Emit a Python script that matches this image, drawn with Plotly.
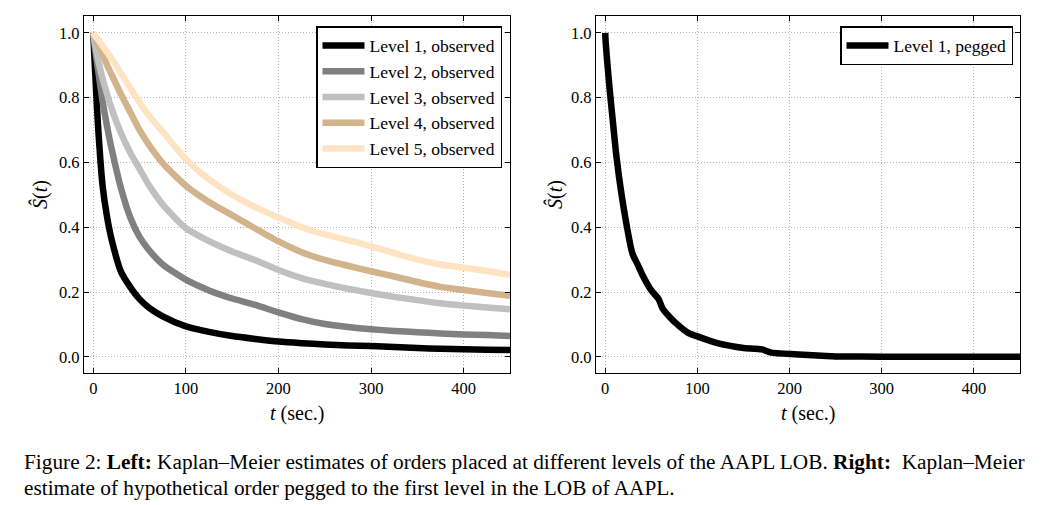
import plotly.graph_objects as go

# ---- data ----
t_obs = [0, 2, 5, 10, 15, 20, 30, 40, 50, 60, 75, 100, 125, 150, 175, 200,
         225, 250, 275, 300, 325, 350, 375, 400, 425, 450]
level1 = [1.0, 0.88, 0.72, 0.53, 0.43, 0.36, 0.262, 0.215, 0.178, 0.152, 0.125, 0.094,
          0.077, 0.064, 0.055, 0.047, 0.042, 0.038, 0.035, 0.033, 0.030, 0.027,
          0.025, 0.023, 0.022, 0.021]
level2 = [1.0, 0.95, 0.89, 0.79, 0.71, 0.64, 0.52, 0.43, 0.37, 0.33, 0.285, 0.238,
          0.205, 0.18, 0.16, 0.137, 0.116, 0.101, 0.092, 0.085, 0.080, 0.076,
          0.072, 0.069, 0.067, 0.064]
level3 = [1.0, 0.965, 0.92, 0.86, 0.81, 0.765, 0.69, 0.63, 0.58, 0.53, 0.47, 0.397,
          0.357, 0.325, 0.298, 0.268, 0.243, 0.225, 0.21, 0.197, 0.185, 0.175,
          0.165, 0.158, 0.152, 0.147]
level4 = [1.0, 0.985, 0.965, 0.935, 0.90, 0.87, 0.81, 0.755, 0.70, 0.655, 0.598, 0.528,
          0.478, 0.437, 0.396, 0.356, 0.323, 0.299, 0.281, 0.264, 0.248, 0.231,
          0.216, 0.206, 0.197, 0.188]
level5 = [1.0, 0.99, 0.98, 0.96, 0.94, 0.92, 0.875, 0.83, 0.785, 0.745, 0.695, 0.61,
          0.548, 0.50, 0.462, 0.43, 0.40, 0.378, 0.36, 0.341, 0.32, 0.30,
          0.285, 0.275, 0.265, 0.253]

t_peg = [0, 0.5, 2.5, 5, 8, 11.5, 15, 17, 20, 23, 28, 30, 36, 40, 50, 58, 62, 65,
         77, 90, 100, 113, 125, 141, 150, 170, 180, 205, 225, 245, 250, 300, 450]
pegged = [1.0, 0.97, 0.90, 0.82, 0.735, 0.635, 0.555, 0.515, 0.46, 0.41, 0.335, 0.315,
          0.28, 0.255, 0.205, 0.178, 0.15, 0.139, 0.103, 0.074, 0.063, 0.05, 0.04,
          0.031, 0.027, 0.023, 0.013, 0.008, 0.005, 0.002, 0.001, 0.0005, 0.0]

obs_names = ["Level 1, observed", "Level 2, observed", "Level 3, observed",
             "Level 4, observed", "Level 5, observed"]
obs_series = [level1, level2, level3, level4, level5]
obs_colors = ["black", "gray", "silver", "tan", "bisque"]

x_ticks = [0, 100, 200, 300, 400]
y_ticks = [0.0, 0.2, 0.4, 0.6, 0.8, 1.0]
y_ticktext = ["0.0", "0.2", "0.4", "0.6", "0.8", "1.0"]

FONT = "Liberation Serif"
OFF = 8  # default page body margin
W, H = 1053 - OFF, 505 - OFF

fig = go.Figure()
for name, ys, col in zip(obs_names, obs_series, obs_colors):
    fig.add_trace(go.Scatter(x=t_obs, y=ys, mode="lines", name=name,
                             line=dict(color=col, width=6.5, shape="spline", smoothing=0.6),
                             xaxis="x", yaxis="y", legend="legend"))
fig.add_trace(go.Scatter(x=t_peg, y=pegged, mode="lines", name="Level 1, pegged",
                         line=dict(color="black", width=6.5, shape="spline", smoothing=0.5),
                         xaxis="x2", yaxis="y2", legend="legend2"))

def px_x(p):
    return (p - OFF) / W

def px_y(p):
    return 1 - (p - OFF) / H

axis_common = dict(showline=True, linecolor="black", linewidth=1.2, mirror="ticks",
                   ticks="inside", ticklen=5, tickwidth=1.2, tickcolor="black",
                   showgrid=True, gridcolor="#b4b4b4", griddash="1px,2px", gridwidth=1,
                   zeroline=False, automargin=False,
                   tickfont=dict(family=FONT, size=16.5, color="black"))

xcommon = dict(axis_common, range=[-10, 450], tickvals=x_ticks)
ycommon = dict(axis_common, range=[-0.05, 1.052], tickvals=y_ticks, ticktext=y_ticktext)

fig.update_layout(
    width=W, height=H,
    margin=dict(l=0, r=0, t=0, b=0, autoexpand=False),
    paper_bgcolor="white", plot_bgcolor="white",
    showlegend=True,
    xaxis=dict(xcommon, domain=[px_x(84), px_x(510)], anchor="y"),
    yaxis=dict(ycommon, domain=[px_y(373), px_y(16)], anchor="x"),
    xaxis2=dict(xcommon, domain=[px_x(596), px_x(1020)], anchor="y2"),
    yaxis2=dict(ycommon, domain=[px_y(373), px_y(16)], anchor="x2"),
    legend=dict(x=px_x(502), y=px_y(26), xanchor="right", yanchor="top",
                bgcolor="white", bordercolor="black", borderwidth=1.5,
                font=dict(family=FONT, size=17.5, color="black"),
                itemwidth=42, tracegroupgap=0),
    legend2=dict(x=px_x(1013), y=px_y(26), xanchor="right", yanchor="top",
                 bgcolor="white", bordercolor="black", borderwidth=1.5,
                 font=dict(family=FONT, size=17.5, color="black"),
                 itemwidth=42),
)

# axis titles placed as annotations
TITLE_FONT = dict(family=FONT, size=20, color="black")
for cx in (297, 808):
    fig.add_annotation(xref="paper", yref="paper", x=px_x(cx), y=px_y(413),
                       xanchor="center", yanchor="middle", showarrow=False,
                       text="<i>t</i> (sec.)", font=TITLE_FONT)
for cx in (40, 555):
    fig.add_annotation(xref="paper", yref="paper", x=px_x(cx), y=px_y(195),
                       xanchor="center", yanchor="middle", showarrow=False,
                       textangle=-90, text="<i>Ŝ</i>(<i>t</i>)", font=TITLE_FONT)

fig.add_annotation(xref="paper", yref="paper", x=px_x(22), y=px_y(462),
                   xanchor="left", yanchor="middle", showarrow=False,
                   text="Figure 2: <b>Left:</b> Kaplan–Meier estimates of orders placed at different levels of the AAPL LOB. <b>Right:</b>  Kaplan–Meier",
                   font=dict(family=FONT, size=21.3, color="black"))
fig.add_annotation(xref="paper", yref="paper", x=px_x(22), y=px_y(488),
                   xanchor="left", yanchor="middle", showarrow=False,
                   text="estimate of hypothetical order pegged to the first level in the LOB of AAPL.",
                   font=dict(family=FONT, size=21.3, color="black"))

fig.write_html("out.html")
